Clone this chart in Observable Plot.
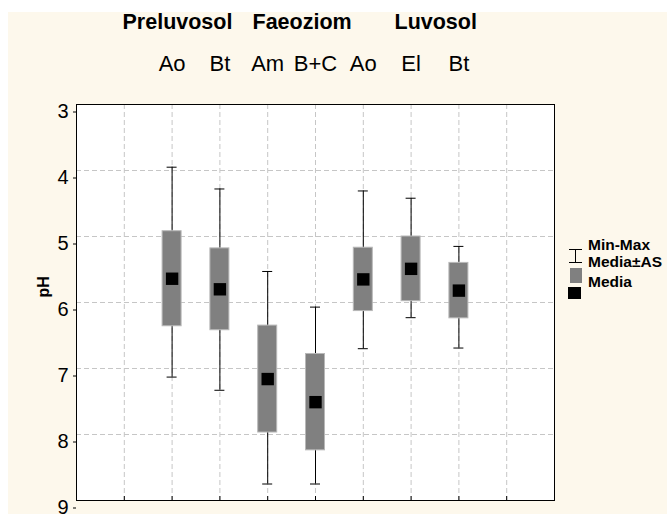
<!DOCTYPE html>
<html>
<head>
<meta charset="utf-8">
<script src="https://cdn.jsdelivr.net/npm/d3@7"></script>
<script src="https://cdn.jsdelivr.net/npm/@observablehq/plot@0.6"></script>
<style>
  html, body { margin: 0; padding: 0; background: #ffffff; }
  #chart { position: absolute; left: 8px; top: 12px; }
</style>
</head>
<body>
<div id="chart"></div>
<script>
// pH by soil type and horizon: mean, mean ± standard deviation, min–max
const soils    = ["Preluvosol", "Preluvosol", "Faeoziom", "Faeoziom", "Luvosol", "Luvosol", "Luvosol"];
const horizons = ["Ao", "Bt", "Am", "B+C", "Ao", "El", "Bt"];
const means    = [5.64, 5.80, 7.16, 7.51, 5.65, 5.49, 5.82];
const sds      = [0.72, 0.62, 0.81, 0.73, 0.48, 0.49, 0.42];
const mins     = [3.95, 4.28, 5.53, 6.07, 4.31, 4.42, 5.15];
const maxs     = [7.13, 7.33, 8.75, 8.75, 6.70, 6.23, 6.69];
const groups   = ["Preluvosol", "Faeoziom", "Luvosol"];
const yTicks   = [3, 4, 5, 6, 7, 8, 9];
const xTicks   = [1, 2, 3, 4, 5, 6, 7, 8, 9];
const legendLabels = ["Min-Max", "Media±AS", "Media"];

// one row per horizon; horizons sit on positions 2..8 of a 0..10 axis
const rows = horizons.map((h, i) => ({
  soil: soils[i],
  horizon: h,
  pos: i + 2,
  mean: means[i],
  lo: means[i] - sds[i],
  hi: means[i] + sds[i],
  min: mins[i],
  max: maxs[i]
}));

const W = 659, H = 502;
const font = "'Liberation Sans', Arial, sans-serif";
const gridStyle = {stroke: "#c6c6c6", strokeOpacity: 1, strokeDasharray: "5,3"};
const groupDx = [46, 176, 318]; // left offsets of the soil-type headings

const chart = Plot.plot({
  width: W,
  height: H,
  marginLeft: 68,
  marginRight: 113,
  marginTop: 92,
  marginBottom: 14,
  style: {background: "#fdf8ec", fontFamily: font, color: "#000", overflow: "visible"},
  x: {domain: [0, 10], axis: null},
  y: {domain: [3, 9], reverse: true, axis: null},
  marks: [
    Plot.frame({fill: "#ffffff"}),
    Plot.gridX(xTicks, gridStyle),
    Plot.gridY([4, 5, 6, 7, 8], gridStyle),
    Plot.axisY({ticks: yTicks, tickSize: 3, tickPadding: 5, fontSize: 20, dy: 7.5, tickFormat: d => String(d), label: null}),
    Plot.axisX({ticks: xTicks, tickSize: -4, tickFormat: () => "", label: null}),
    Plot.frame({stroke: "#000"}),
    // min–max whiskers
    Plot.ruleX(rows, {x: "pos", y1: "min", y2: "max", stroke: "#000", strokeWidth: 1}),
    Plot.ruleY(rows, {y: "min", x1: "pos", x2: "pos", insetLeft: -5, insetRight: -5, stroke: "#000"}),
    Plot.ruleY(rows, {y: "max", x1: "pos", x2: "pos", insetLeft: -5, insetRight: -5, stroke: "#000"}),
    // mean ± SD boxes
    Plot.rect(rows, {x1: "pos", x2: "pos", y1: "lo", y2: "hi", insetLeft: -9.5, insetRight: -9.5, fill: "#808080", stroke: "#b8b8b8", strokeWidth: 1}),
    // means
    Plot.dot(rows, {x: "pos", y: "mean", symbol: "square", r: 7, fill: "#000", stroke: null}),
    // horizon labels above each box
    Plot.text(rows, {x: "pos", text: "horizon", frameAnchor: "top", lineAnchor: "bottom", dy: -33.5, fontSize: 22}),
    // soil-type headings
    ...groups.map((g, i) => Plot.text([g], {text: d => d, frameAnchor: "top-left", textAnchor: "start", lineAnchor: "bottom", dx: groupDx[i], dy: -76, fontSize: 21.5, fontWeight: "bold"})),
    // y label
    Plot.text(["pH"], {text: d => d, frameAnchor: "left", rotate: -90, dx: -33, dy: -5, fontSize: 16, fontWeight: "bold"})
  ]
});

// legend in the right margin
const svg = d3.select(chart);
const lg = svg.append("g").attr("transform", "translate(560,0)");
const ink = "#000";
// whisker symbol
lg.append("line").attr("x1", 7.5).attr("x2", 7.5).attr("y1", 237).attr("y2", 251).attr("stroke", ink);
lg.append("line").attr("x1", 1).attr("x2", 14).attr("y1", 237.5).attr("y2", 237.5).attr("stroke", ink);
lg.append("line").attr("x1", 1).attr("x2", 14).attr("y1", 250.5).attr("y2", 250.5).attr("stroke", ink);
// box symbol
lg.append("rect").attr("x", 2).attr("y", 256).attr("width", 12).attr("height", 15).attr("fill", "#808080");
// mean symbol
lg.append("rect").attr("x", 0).attr("y", 275).attr("width", 13).attr("height", 12).attr("fill", "#000");
lg.selectAll("text.lab").data(legendLabels).join("text")
  .attr("class", "lab")
  .attr("x", 20)
  .attr("y", (d, i) => [238, 255, 275][i])
  .attr("text-anchor", "start")
  .attr("font-size", 15.5)
  .attr("font-weight", "bold")
  .attr("font-family", font)
  .attr("fill", ink)
  .text(d => d);

document.getElementById("chart").appendChild(chart);
</script>
</body>
</html>
